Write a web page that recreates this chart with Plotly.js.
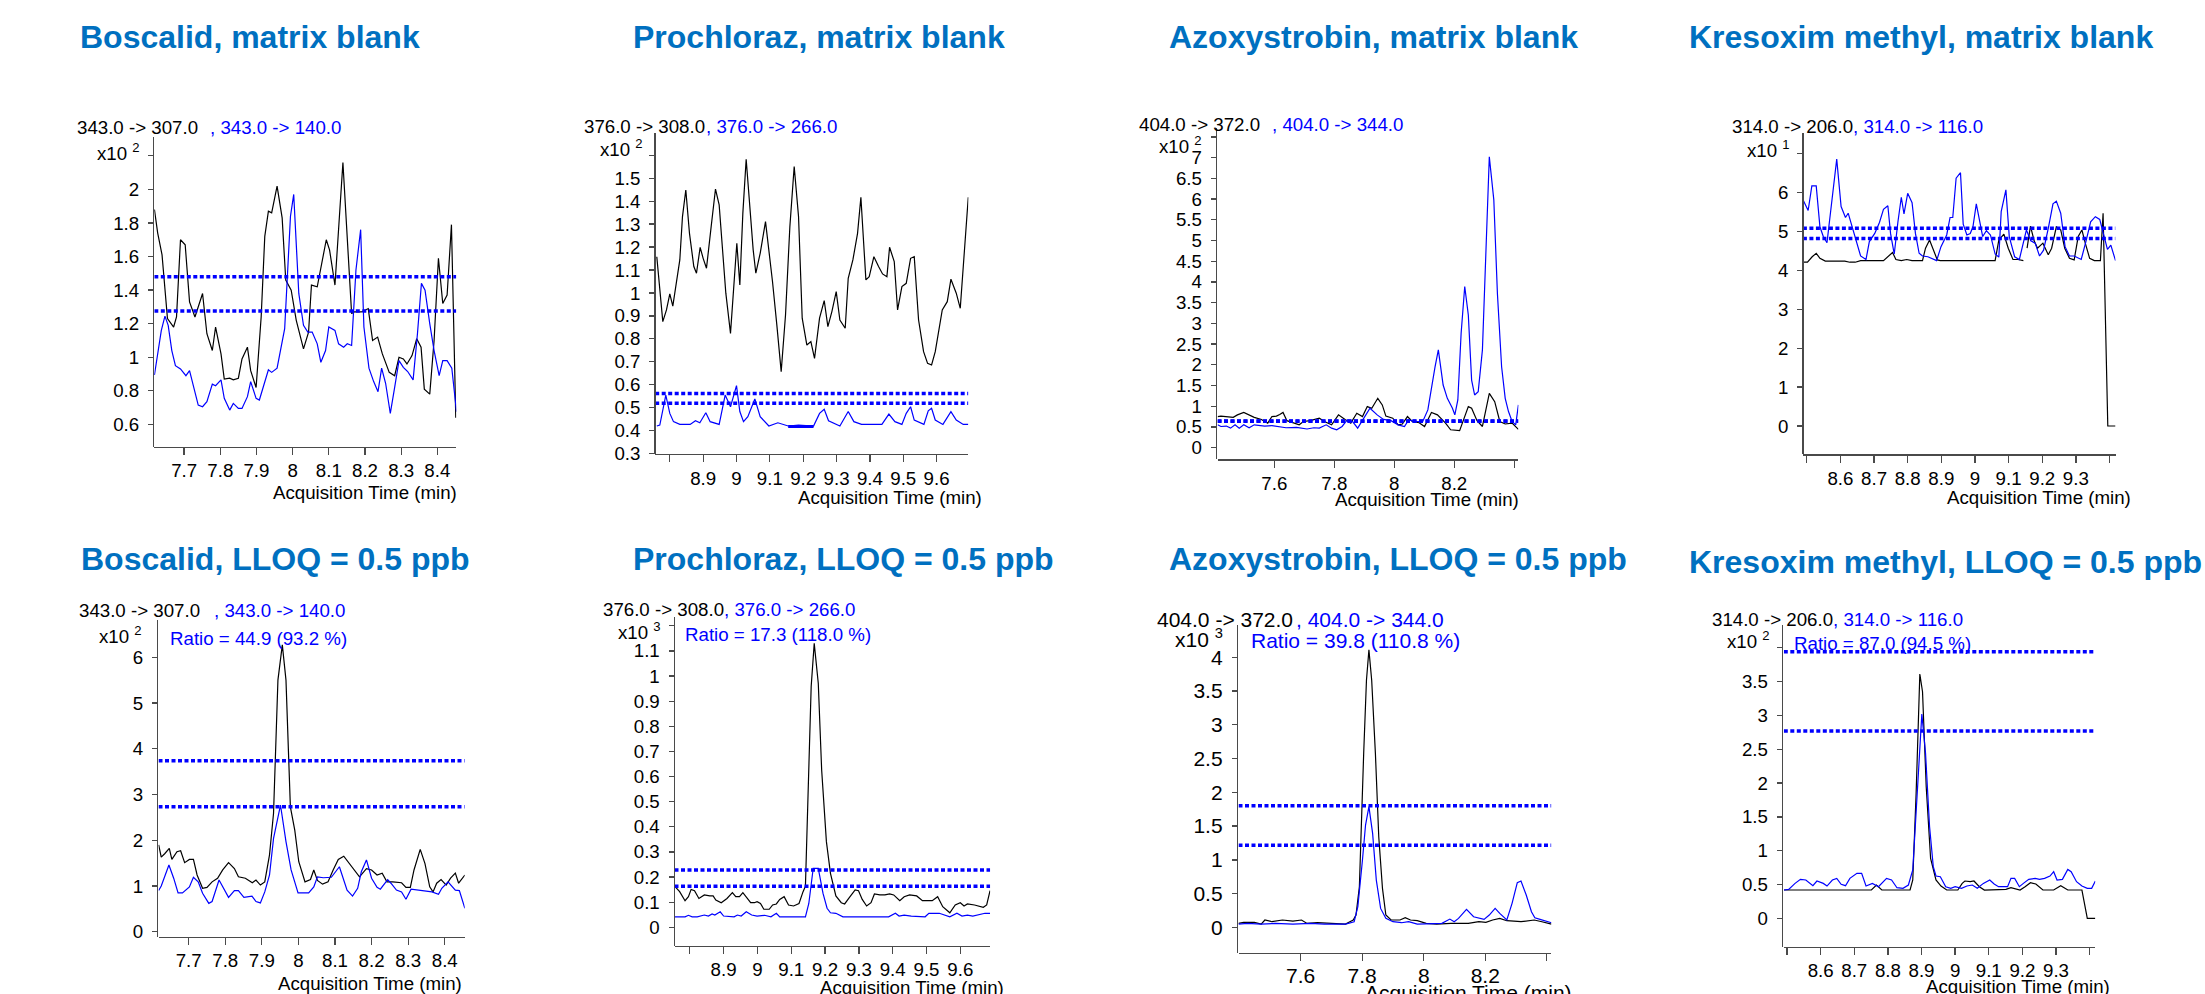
<!DOCTYPE html>
<html><head><meta charset="utf-8">
<script src="https://cdn.plot.ly/plotly-3.0.1.min.js"></script>
<style>html,body{margin:0;padding:0;background:#fff}</style>
</head><body><div id="chart" style="width:2205px;height:994px"></div>
<script>
// ---------- DATA (intensities in displayed units, i.e. x10^n shown on each axis) ----------
// Panel 1: Boscalid, matrix blank (x10^2)
const boscalidBlankQuantT=[7.618,7.627,7.639,7.649,7.654,7.671,7.679,7.690,7.703,7.715,7.730,7.751,7.763,7.778,7.787,7.802,7.811,7.826,7.836,7.850,7.860,7.875,7.884,7.899,7.913,7.923,7.933,7.942,7.957,7.971,7.981,7.996,8.010,8.030,8.044,8.052,8.068,8.093,8.102,8.117,8.139,8.163,8.170,8.190,8.209,8.221,8.235,8.248,8.267,8.282,8.294,8.306,8.316,8.330,8.343,8.355,8.364,8.379,8.391,8.403,8.415,8.427,8.439,8.451];
const boscalidBlankQuantY=[1.88,1.74,1.61,1.36,1.23,1.18,1.24,1.70,1.67,1.33,1.24,1.38,1.14,1.04,1.18,1.02,0.87,0.875,0.865,0.875,0.99,1.06,0.92,0.82,1.24,1.72,1.87,1.86,2.02,1.83,1.46,1.40,1.22,1.05,1.15,1.43,1.42,1.70,1.64,1.43,2.16,1.26,1.27,1.27,1.29,1.10,1.12,1.02,0.91,0.89,1.00,0.99,0.96,1.01,1.11,1.06,0.81,0.78,1.10,1.59,1.32,1.37,1.79,0.64];
const boscalidBlankQualT=[7.618,7.637,7.647,7.656,7.666,7.676,7.690,7.705,7.715,7.727,7.739,7.751,7.763,7.778,7.787,7.802,7.811,7.826,7.836,7.850,7.860,7.875,7.884,7.899,7.908,7.933,7.942,7.957,7.978,7.994,8.003,8.017,8.030,8.042,8.054,8.068,8.078,8.091,8.100,8.117,8.127,8.141,8.151,8.163,8.175,8.188,8.197,8.211,8.224,8.236,8.246,8.257,8.270,8.282,8.294,8.306,8.318,8.333,8.345,8.356,8.366,8.379,8.391,8.405,8.415,8.427,8.440,8.453];
const boscalidBlankQualY=[0.894,1.16,1.245,1.19,1.04,0.95,0.93,0.89,0.92,0.82,0.715,0.705,0.735,0.84,0.83,0.865,0.755,0.685,0.725,0.695,0.695,0.765,0.855,0.755,0.745,0.925,0.91,0.935,1.17,1.84,1.97,1.38,1.19,1.15,1.15,1.08,0.97,1.04,1.18,1.16,1.08,1.06,1.08,1.07,1.52,1.76,1.18,0.935,0.855,0.795,0.935,0.845,0.665,0.82,0.98,0.94,0.915,0.865,1.14,1.44,1.40,1.20,1.04,0.89,0.98,0.98,0.935,0.675];
const boscalidBlankLimits=[1.48,1.275];

// Panel 2: Prochloraz, matrix blank (x10^2)
const prochlorazBlankQuantT=[8.761,8.779,8.790,8.800,8.809,8.819,8.830,8.838,8.848,8.859,8.872,8.880,8.891,8.900,8.910,8.924,8.937,8.948,8.958,8.968,8.982,8.992,9.001,9.010,9.019,9.029,9.040,9.050,9.058,9.071,9.087,9.097,9.108,9.121,9.134,9.147,9.160,9.173,9.186,9.197,9.211,9.223,9.234,9.249,9.263,9.274,9.286,9.299,9.310,9.326,9.335,9.349,9.363,9.373,9.388,9.398,9.412,9.426,9.438,9.451,9.459,9.473,9.483,9.496,9.509,9.522,9.533,9.546,9.561,9.573,9.585,9.596,9.617,9.632,9.643,9.659,9.671,9.695];
const prochlorazBlankQuantY=[1.158,0.875,0.926,0.996,0.943,1.042,1.144,1.333,1.449,1.260,1.115,1.086,1.199,1.151,1.108,1.289,1.453,1.384,1.188,0.999,0.824,1.028,1.217,1.035,1.347,1.583,1.376,1.188,1.086,1.173,1.311,1.195,1.049,0.860,0.657,0.904,1.289,1.551,1.333,0.890,0.773,0.788,0.715,0.890,0.967,0.853,0.919,1.006,0.882,0.846,1.064,1.144,1.260,1.417,1.057,1.071,1.158,1.115,1.083,1.071,1.199,1.137,0.926,1.028,1.042,1.151,1.158,0.882,0.744,0.693,0.686,0.744,0.926,0.962,1.060,0.999,0.933,1.417];
const prochlorazBlankQualT=[8.761,8.770,8.788,8.800,8.811,8.830,8.861,8.877,8.890,8.908,8.921,8.935,8.948,8.966,8.982,9.000,9.010,9.021,9.034,9.055,9.071,9.097,9.124,9.155,9.186,9.231,9.249,9.263,9.276,9.310,9.335,9.352,9.375,9.436,9.457,9.475,9.496,9.509,9.522,9.533,9.562,9.575,9.585,9.596,9.619,9.643,9.659,9.680,9.695];
const prochlorazBlankQualY=[0.42,0.424,0.555,0.475,0.439,0.427,0.427,0.443,0.434,0.478,0.439,0.434,0.427,0.555,0.504,0.596,0.483,0.439,0.461,0.538,0.461,0.420,0.434,0.42,0.424,0.42,0.475,0.493,0.443,0.42,0.483,0.439,0.427,0.427,0.472,0.439,0.427,0.475,0.504,0.446,0.427,0.486,0.497,0.446,0.427,0.483,0.446,0.427,0.427];
const prochlorazBlankBaselineT=[9.155,9.231];
const prochlorazBlankBaselineY=[0.418,0.418];
const prochlorazBlankLimits=[0.562,0.519];

// Panel 3: Azoxystrobin, matrix blank (x10^2)
const azoxystrobinBlankQuantT=[7.411,7.422,7.463,7.477,7.498,7.516,7.533,7.557,7.578,7.592,7.607,7.618,7.629,7.642,7.662,7.683,7.697,7.720,7.750,7.767,7.791,7.814,7.837,7.855,7.875,7.894,7.910,7.925,7.945,7.960,7.972,7.995,8.013,8.027,8.044,8.060,8.083,8.101,8.124,8.144,8.171,8.188,8.218,8.229,8.247,8.258,8.276,8.294,8.317,8.335,8.352,8.370,8.393,8.414];
const azoxystrobinBlankQuantY=[0.75,0.76,0.73,0.79,0.85,0.79,0.73,0.68,0.59,0.75,0.76,0.80,0.85,0.65,0.60,0.55,0.63,0.65,0.71,0.63,0.55,0.79,0.67,0.59,0.83,0.75,0.99,0.95,1.19,1.03,0.76,0.71,0.55,0.57,0.75,0.63,0.60,0.51,0.85,0.79,0.59,0.43,0.41,0.65,0.99,0.95,0.65,0.51,1.31,1.11,0.63,0.57,0.59,0.44];
const azoxystrobinBlankQualT=[7.411,7.422,7.440,7.454,7.469,7.483,7.498,7.516,7.533,7.568,7.592,7.615,7.639,7.674,7.709,7.732,7.750,7.773,7.791,7.808,7.826,7.843,7.861,7.878,7.898,7.919,7.943,7.964,7.989,8.013,8.034,8.048,8.069,8.095,8.112,8.124,8.136,8.147,8.163,8.177,8.194,8.202,8.212,8.223,8.235,8.247,8.258,8.268,8.280,8.294,8.305,8.317,8.332,8.344,8.358,8.370,8.381,8.393,8.405,8.414];
const azoxystrobinBlankQualY=[0.55,0.51,0.52,0.47,0.55,0.47,0.55,0.48,0.55,0.52,0.53,0.51,0.48,0.49,0.45,0.48,0.47,0.55,0.47,0.43,0.51,0.67,0.63,0.47,0.71,0.95,0.79,0.68,0.65,0.55,0.51,0.67,0.63,0.63,0.91,1.47,1.95,2.36,1.51,1.19,0.95,0.79,1.15,2.76,3.89,3.20,1.63,1.27,1.35,2.36,4.77,7.02,5.98,3.72,1.95,1.19,0.87,0.63,0.55,1.03];
const azoxystrobinBlankLimits=[0.645,0.635];

// Panel 4: Kresoxim methyl, matrix blank (x10^1)
const kresoximBlankQuantT=[8.488,8.502,8.516,8.528,8.539,8.555,8.613,8.628,8.644,8.660,8.728,8.741,8.755,8.765,8.781,8.797,8.813,8.844,8.853,8.865,8.876,8.888,8.897,9.060,9.071,9.086,9.099,9.113,9.128,9.144,9.150,9.155,9.165,9.176,9.186,9.202,9.218,9.228,9.242,9.255,9.267,9.281,9.295,9.307,9.318,9.328,9.341,9.355,9.373,9.381,9.395,9.418];
const kresoximBlankQuantY=[4.21,4.21,4.35,4.44,4.31,4.24,4.24,4.21,4.21,4.25,4.25,4.35,4.46,4.28,4.25,4.28,4.25,4.25,4.57,4.78,4.52,4.27,4.25,4.25,4.78,4.93,4.57,4.28,4.28,4.25,null,4.57,5.14,4.76,4.57,4.70,4.40,4.57,5.12,5.04,4.57,4.31,4.27,4.87,5.04,4.70,4.31,4.25,4.25,5.47,0,0];
const kresoximBlankQualT=[8.488,8.504,8.515,8.528,8.539,8.549,8.560,8.573,8.589,8.602,8.615,8.623,8.632,8.644,8.660,8.676,8.686,8.702,8.716,8.728,8.741,8.749,8.760,8.771,8.781,8.789,8.800,8.813,8.823,8.834,8.844,8.860,8.873,8.886,8.899,8.916,8.926,8.934,8.944,8.957,8.965,8.976,8.986,8.994,9.004,9.015,9.023,9.034,9.046,9.060,9.071,9.078,9.092,9.102,9.118,9.132,9.144,9.153,9.166,9.179,9.192,9.204,9.218,9.232,9.242,9.255,9.268,9.281,9.295,9.316,9.331,9.344,9.358,9.371,9.379,9.394,9.404,9.418];
const kresoximBlankQualY=[5.83,5.54,6.17,6.17,5.12,4.87,4.71,5.72,6.86,5.64,5.36,5.47,5.19,4.82,4.37,4.28,4.74,4.95,5.23,5.57,5.66,4.95,4.42,5.25,5.88,5.45,5.98,5.74,4.95,4.44,4.37,4.35,4.31,4.25,4.61,4.91,5.36,5.36,6.37,6.51,5.19,4.91,4.95,5.12,5.71,5.23,4.87,5.02,4.91,4.42,4.34,5.51,6.07,4.87,4.35,4.28,4.70,5.04,4.76,4.70,4.37,4.52,5.08,5.71,5.78,5.47,4.61,4.37,4.37,4.28,4.78,5.25,5.38,5.31,5.04,4.54,4.65,4.25];
const kresoximBlankLimits=[5.08,4.82];

// Panel 5: Boscalid, LLOQ = 0.5 ppb (x10^2)
const boscalidLloqQuantT=[7.618,7.625,7.635,7.647,7.654,7.668,7.678,7.689,7.702,7.713,7.723,7.738,7.750,7.764,7.779,7.793,7.809,7.825,7.836,7.855,7.874,7.884,7.896,7.908,7.921,7.932,7.944,7.956,7.966,7.978,7.990,8.001,8.018,8.033,8.042,8.052,8.066,8.081,8.095,8.109,8.124,8.143,8.167,8.186,8.200,8.215,8.229,8.242,8.258,8.282,8.294,8.306,8.316,8.333,8.346,8.359,8.368,8.378,8.390,8.404,8.416,8.429,8.438,8.455];
const boscalidLloqQuantY=[1.90,1.63,1.71,1.82,1.58,1.75,1.77,1.51,1.58,1.58,1.24,0.95,0.97,1.09,1.17,1.35,1.51,1.38,1.20,1.17,1.07,1.13,1.02,1.09,1.68,2.59,5.50,6.27,5.50,2.73,2.22,1.53,1.09,1.14,1.35,1.12,1.04,1.09,1.35,1.58,1.65,1.46,1.20,1.38,1.35,1.24,1.28,1.09,1.09,1.07,0.97,0.97,1.35,1.80,1.49,0.98,0.87,1.06,1.14,1.02,1.17,1.28,1.06,1.24];
const boscalidLloqQualT=[7.618,7.625,7.646,7.659,7.671,7.683,7.702,7.713,7.726,7.738,7.755,7.764,7.783,7.798,7.809,7.825,7.836,7.851,7.873,7.884,7.896,7.908,7.921,7.932,7.951,7.966,7.980,7.999,8.028,8.042,8.052,8.068,8.090,8.112,8.133,8.148,8.162,8.172,8.186,8.200,8.215,8.224,8.244,8.253,8.268,8.282,8.294,8.308,8.325,8.344,8.365,8.383,8.392,8.409,8.429,8.440,8.455];
const boscalidLloqQualY=[0.90,1.00,1.46,1.17,0.85,0.85,0.98,1.19,1.09,0.84,0.62,0.66,1.13,0.91,0.75,0.90,0.90,0.75,0.78,0.66,0.63,0.87,1.24,2.04,2.77,1.97,1.35,0.85,0.85,0.98,1.20,1.18,1.19,1.42,0.91,0.78,0.95,1.31,1.57,1.17,0.97,0.93,1.14,1.06,0.91,0.87,0.71,0.93,0.91,0.90,0.87,0.82,0.95,1.09,0.91,0.90,0.51];
const boscalidLloqLimits=[3.74,2.73];

// Panel 6: Prochloraz, LLOQ = 0.5 ppb (x10^3)
const prochlorazLloqQuantT=[8.755,8.770,8.786,8.796,8.804,8.814,8.827,8.843,8.859,8.869,8.877,8.893,8.910,8.926,8.936,8.947,8.957,8.967,8.980,8.991,8.999,9.009,9.019,9.035,9.045,9.056,9.066,9.079,9.092,9.107,9.123,9.135,9.142,9.149,9.159,9.168,9.180,9.190,9.204,9.216,9.232,9.248,9.258,9.270,9.289,9.299,9.310,9.323,9.336,9.346,9.362,9.377,9.391,9.403,9.421,9.434,9.450,9.471,9.488,9.517,9.533,9.548,9.569,9.585,9.600,9.611,9.621,9.642,9.668,9.678,9.688];
const prochlorazLloqQuantY=[0.164,0.142,0.106,0.122,0.151,0.146,0.115,0.129,0.125,0.125,0.109,0.098,0.115,0.138,0.122,0.122,0.138,0.122,0.098,0.098,0.102,0.095,0.072,0.072,0.089,0.093,0.111,0.122,0.089,0.085,0.095,0.142,0.164,0.493,0.958,1.130,0.971,0.626,0.341,0.215,0.125,0.098,0.093,0.115,0.149,0.146,0.111,0.085,0.098,0.133,0.129,0.129,0.133,0.129,0.106,0.122,0.129,0.125,0.106,0.106,0.122,0.082,0.058,0.089,0.098,0.085,0.093,0.089,0.080,0.089,0.146];
const prochlorazLloqQualT=[8.755,8.786,8.796,8.807,8.822,8.843,8.855,8.866,8.874,8.890,8.900,8.931,8.941,8.952,8.967,8.983,8.999,9.021,9.040,9.056,9.066,9.142,9.152,9.165,9.180,9.194,9.206,9.216,9.232,9.253,9.388,9.408,9.419,9.434,9.455,9.496,9.507,9.538,9.569,9.590,9.605,9.621,9.637,9.650,9.673,9.688];
const prochlorazLloqQualY=[0.042,0.042,0.048,0.042,0.042,0.049,0.045,0.053,0.049,0.062,0.045,0.042,0.049,0.045,0.062,0.049,0.045,0.048,0.042,0.056,0.042,0.042,0.095,0.235,0.235,0.135,0.076,0.058,0.056,0.042,0.042,0.056,0.045,0.049,0.045,0.042,0.056,0.056,0.042,0.056,0.045,0.049,0.045,0.049,0.056,0.056];
const prochlorazLloqLimits=[0.228,0.164];

// Panel 7: Azoxystrobin, LLOQ = 0.5 ppb (x10^3)
const azoxystrobinLloqQuantT=[7.398,7.415,7.450,7.472,7.484,7.507,7.541,7.575,7.603,7.621,7.655,7.723,7.746,7.760,7.771,7.780,7.791,7.805,7.814,7.822,7.831,7.843,7.854,7.866,7.877,7.894,7.923,7.940,7.957,7.979,8.008,8.042,8.088,8.145,8.179,8.202,8.224,8.247,8.270,8.316,8.359,8.384,8.415];
const azoxystrobinLloqQuantY=[0.059,0.074,0.074,0.049,0.109,0.084,0.109,0.094,0.109,0.059,0.069,0.059,0.049,0.084,0.109,0.183,0.602,2.58,3.66,4.11,3.66,2.58,1.34,0.578,0.183,0.109,0.109,0.143,0.109,0.099,0.059,0.049,0.059,0.059,0.084,0.074,0.109,0.133,0.099,0.084,0.109,0.084,0.049];
const azoxystrobinLloqQualT=[7.398,7.427,7.472,7.518,7.575,7.632,7.677,7.746,7.774,7.786,7.801,7.811,7.822,7.834,7.846,7.860,7.877,7.900,7.928,7.951,7.979,8.042,8.059,8.085,8.099,8.113,8.139,8.162,8.179,8.196,8.213,8.232,8.247,8.270,8.287,8.304,8.316,8.333,8.350,8.361,8.378,8.395,8.415];
const azoxystrobinLloqQualY=[0.049,0.059,0.049,0.059,0.049,0.059,0.049,0.049,0.084,0.306,0.998,1.516,1.788,1.393,0.701,0.281,0.133,0.084,0.069,0.084,0.049,0.049,0.059,0.123,0.084,0.133,0.267,0.158,0.133,0.119,0.183,0.281,0.207,0.109,0.356,0.662,0.686,0.479,0.232,0.143,0.119,0.099,0.069];
const azoxystrobinLloqLimits=[1.80,1.215];

// Panel 8: Kresoxim methyl, LLOQ = 0.5 ppb (x10^2)
const kresoximLloqQuantT=[8.491,8.751,8.766,8.782,8.866,8.874,8.884,8.895,8.903,8.914,8.927,8.943,8.958,8.975,9.008,9.021,9.029,9.045,9.056,9.072,9.087,9.135,9.151,9.166,9.182,9.193,9.208,9.224,9.240,9.261,9.293,9.314,9.335,9.377,9.393,9.417];
const kresoximLloqQuantY=[0.419,0.419,0.493,0.419,0.419,0.567,1.848,3.613,3.351,1.947,0.887,0.567,0.478,0.419,0.419,0.517,0.552,0.542,0.552,0.468,0.419,0.419,0.429,0.453,0.429,0.419,0.468,0.527,0.508,0.419,0.419,0.483,0.419,0.419,0,0];
const kresoximLloqQualT=[8.491,8.505,8.524,8.540,8.556,8.577,8.589,8.608,8.619,8.635,8.648,8.661,8.674,8.687,8.708,8.722,8.735,8.754,8.772,8.796,8.811,8.827,8.845,8.861,8.874,8.884,8.901,8.912,8.924,8.935,8.943,8.956,8.972,8.987,9.000,9.019,9.035,9.051,9.066,9.084,9.103,9.116,9.129,9.156,9.166,9.177,9.191,9.203,9.219,9.238,9.251,9.266,9.282,9.293,9.303,9.319,9.335,9.345,9.361,9.377,9.393,9.406,9.417];
const kresoximLloqQualY=[0.419,0.429,0.517,0.577,0.567,0.483,0.552,0.517,0.478,0.567,0.591,0.503,0.483,0.591,0.665,0.665,0.478,0.517,0.468,0.591,0.567,0.453,0.444,0.493,0.715,1.552,3.021,2.440,1.355,0.764,0.626,0.616,0.468,0.444,0.468,0.444,0.478,0.493,0.444,0.517,0.567,0.508,0.468,0.468,0.591,0.591,0.468,0.517,0.577,0.591,0.577,0.591,0.626,0.690,0.567,0.577,0.724,0.690,0.542,0.478,0.444,0.444,0.552];
const kresoximLloqLimits=[3.94,2.77];

// ---------- TEXT / TICKS ----------
const panelTitles=["Boscalid, matrix blank","Prochloraz, matrix blank","Azoxystrobin, matrix blank","Kresoxim methyl, matrix blank","Boscalid, LLOQ = 0.5 ppb","Prochloraz, LLOQ = 0.5 ppb","Azoxystrobin, LLOQ = 0.5 ppb","Kresoxim methyl, LLOQ = 0.5 ppb"];
const quantLabels=["343.0 -> 307.0","376.0 -> 308.0","404.0 -> 372.0","314.0 -> 206.0","343.0 -> 307.0","376.0 -> 308.0","404.0 -> 372.0","314.0 -> 206.0"];
const qualLabels=[", 343.0 -> 140.0",", 376.0 -> 266.0",", 404.0 -> 344.0",", 314.0 -> 116.0",", 343.0 -> 140.0",", 376.0 -> 266.0",", 404.0 -> 344.0",", 314.0 -> 116.0"];
const scaleExponents=[2,2,2,1,2,3,3,2];
const ratioLabels=[null,null,null,null,"Ratio = 44.9 (93.2 %)","Ratio = 17.3 (118.0 %)","Ratio = 39.8 (110.8 %)","Ratio = 87.0 (94.5 %)"];
const xAxisTitle="Acquisition Time (min)";

const p1XTicks=[7.7,7.8,7.9,8,8.1,8.2,8.3,8.4], p1XLabels=["7.7","7.8","7.9","8","8.1","8.2","8.3","8.4"];
const p2XTicks=[8.8,8.9,9,9.1,9.2,9.3,9.4,9.5,9.6], p2XLabels=["","8.9","9","9.1","9.2","9.3","9.4","9.5","9.6"];
const p3XTicks=[7.6,7.8,8,8.2,8.4], p3XLabels=["7.6","7.8","8","8.2",""];
const p4XTicks=[8.5,8.6,8.7,8.8,8.9,9,9.1,9.2,9.3,9.4], p4XLabels=["","8.6","8.7","8.8","8.9","9","9.1","9.2","9.3",""];
const p1YTicks=[0.6,0.8,1,1.2,1.4,1.6,1.8,2,2.2], p1YLabels=["0.6","0.8","1","1.2","1.4","1.6","1.8","2",""];
const p2YTicks=[0.3,0.4,0.5,0.6,0.7,0.8,0.9,1,1.1,1.2,1.3,1.4,1.5,1.6], p2YLabels=["0.3","0.4","0.5","0.6","0.7","0.8","0.9","1","1.1","1.2","1.3","1.4","1.5",""];
const p3YTicks=[0,0.5,1,1.5,2,2.5,3,3.5,4,4.5,5,5.5,6,6.5,7,7.5], p3YLabels=["0","0.5","1","1.5","2","2.5","3","3.5","4","4.5","5","5.5","6","6.5","7",""];
const p4YTicks=[0,1,2,3,4,5,6,7], p4YLabels=["0","1","2","3","4","5","6",""];
const p5YTicks=[0,1,2,3,4,5,6], p5YLabels=["0","1","2","3","4","5","6"];
const p6YTicks=[0,0.1,0.2,0.3,0.4,0.5,0.6,0.7,0.8,0.9,1,1.1,1.2], p6YLabels=["0","0.1","0.2","0.3","0.4","0.5","0.6","0.7","0.8","0.9","1","1.1",""];
const p7YTicks=[0,0.5,1,1.5,2,2.5,3,3.5,4], p7YLabels=["0","0.5","1","1.5","2","2.5","3","3.5","4"];
const p8YTicks=[0,0.5,1,1.5,2,2.5,3,3.5,4], p8YLabels=["0","0.5","1","1.5","2","2.5","3","3.5",""];

// ---------- LAYOUT GEOMETRY (pixels) ----------
const W=2205,H=994;
const PX=x=>x/W, PY=y=>1-y/H;
const BLUE='#0000ff', TITLE_BLUE='#0070c0', AXIS='#4a4a4a';
const FONT='"Liberation Sans", Arial, sans-serif';
const FS=18.7;

const panels=[
 {ax:152.9,x0:154.3,x1:456.3,y0:136.7,y1:446.7,xr:[7.6176,8.4524],yr:[0.467,2.314],xt:p1XTicks,xl:p1XLabels,yt:p1YTicks,yl:p1YLabels,
  q:[boscalidBlankQuantT,boscalidBlankQuantY],u:[boscalidBlankQualT,boscalidBlankQualY],lim:boscalidBlankLimits,fs:FS,xstand:0,
  title:[78.3,37],quant:[75,128],qual:[208,128],exp:[142,152],xtitle:[459.3,492],ratio:null},
 {ax:654.2,x0:655.2,x1:968.4,y0:133.3,y1:454,xr:[8.7562,9.6954],yr:[0.298,1.696],xt:p2XTicks,xl:p2XLabels,yt:p2YTicks,yl:p2YLabels,
  q:[prochlorazBlankQuantT,prochlorazBlankQuantY],u:[prochlorazBlankQualT,prochlorazBlankQualY],lim:prochlorazBlankLimits,fs:FS,xstand:0,
  title:[630.7,37],quant:[582.3,126],qual:[703.5,126],exp:[645,148],xtitle:[984.2,497],ratio:null},
 {ax:1215.7,x0:1217.5,x1:1518.4,y0:128.3,y1:459.3,xr:[7.4105,8.414],yr:[-0.282,7.707],xt:p3XTicks,xl:p3XLabels,yt:p3YTicks,yl:p3YLabels,
  q:[azoxystrobinBlankQuantT,azoxystrobinBlankQuantY],u:[azoxystrobinBlankQualT,azoxystrobinBlankQualY],lim:azoxystrobinBlankLimits,fs:FS,xstand:0,
  title:[1167.3,37],quant:[1136.8,125],qual:[1270.1,125],exp:[1204.2,145],xtitle:[1520.9,499],ratio:null},
 {ax:1802.2,x0:1802.9,x1:2115.5,y0:133.3,y1:454.3,xr:[8.4884,9.4179],yr:[-0.728,7.524],xt:p4XTicks,xl:p4XLabels,yt:p4YTicks,yl:p4YLabels,
  q:[kresoximBlankQuantT,kresoximBlankQuantY],u:[kresoximBlankQualT,kresoximBlankQualY],lim:kresoximBlankLimits,fs:FS,xstand:0,
  title:[1686.7,37],quant:[1730,126],qual:[1850.7,126],exp:[1791.6,149],xtitle:[2132.5,497],ratio:null},
 {ax:156.8,x0:158.5,x1:464.7,y0:620,y1:936.7,xr:[7.6175,8.4546],yr:[-0.109,6.815],xt:p1XTicks,xl:p1XLabels,yt:p5YTicks,yl:p5YLabels,
  q:[boscalidLloqQuantT,boscalidLloqQuantY],u:[boscalidLloqQualT,boscalidLloqQualY],lim:boscalidLloqLimits,fs:FS,xstand:0,
  title:[78.9,559],quant:[77.2,610],qual:[212.2,610],exp:[144.5,635],xtitle:[464,983],ratio:[167.7,638]},
 {ax:673.5,x0:674.5,x1:990.2,y0:616.7,y1:945.7,xr:[8.7548,9.6884],yr:[-0.073,1.236],xt:p2XTicks,xl:p2XLabels,yt:p6YTicks,yl:p6YLabels,
  q:[prochlorazLloqQuantT,prochlorazLloqQuantY],u:[prochlorazLloqQualT,prochlorazLloqQualY],lim:prochlorazLloqLimits,fs:FS,xstand:0,
  title:[630.7,559],quant:[600.9,609.3],qual:[722,609.3],exp:[662.9,631],xtitle:[1006,987],ratio:[683.3,634]},
 {ax:1236.8,x0:1238.5,x1:1551.4,y0:625,y1:952.7,xr:[7.3983,8.4148],yr:[-0.375,4.479],xt:p3XTicks,xl:p3XLabels,yt:p7YTicks,yl:p7YLabels,
  q:[azoxystrobinLloqQuantT,azoxystrobinLloqQuantY],u:[azoxystrobinLloqQualT,azoxystrobinLloqQualY],lim:azoxystrobinLloqLimits,fs:21,xstand:-3,
  title:[1167.3,559],quant:[1155.1,619],qual:[1293.6,619],exp:[1224.5,638],xtitle:[1573.5,992],ratio:[1249.1,640.7]},
 {ax:1781.7,x0:1783.8,x1:2095.3,y0:625,y1:946.7,xr:[8.4905,9.4168],yr:[-0.419,4.337],xt:p4XTicks,xl:p4XLabels,yt:p8YTicks,yl:p8YLabels,
  q:[kresoximLloqQuantT,kresoximLloqQuantY],u:[kresoximLloqQualT,kresoximLloqQualY],lim:kresoximLloqLimits,fs:FS,xstand:0,
  title:[1686.5,562],quant:[1710.2,619],qual:[1831.2,619],exp:[1772.1,639.5],xtitle:[2112,986],ratio:[1791.6,643]}
];

const data=[], annotations=[];
const layout={width:W,height:H,margin:{l:0,r:0,t:0,b:0},paper_bgcolor:'#fff',plot_bgcolor:'#fff',showlegend:false,font:{family:FONT,color:'#000'}};

panels.forEach((p,i)=>{
  const n=i+1, xa='x'+(n>1?n:''), ya='y'+(n>1?n:'');
  const xk='xaxis'+(n>1?n:''), yk='yaxis'+(n>1?n:'');
  layout[xk]={domain:[PX(p.x0),PX(p.x1)],range:p.xr,anchor:ya,showgrid:false,zeroline:false,showline:true,linecolor:AXIS,linewidth:1.3,
    ticks:'outside',ticklen:7,tickcolor:AXIS,tickwidth:1.3,tickvals:p.xt,ticktext:p.xl,tickfont:{size:p.fs,family:FONT,color:'#000'},ticklabelstandoff:p.xstand,fixedrange:true};
  layout[yk]={domain:[PY(p.y1),PY(p.y0)],range:p.yr,anchor:'free',position:PX(p.ax),showgrid:false,zeroline:false,showline:true,linecolor:AXIS,linewidth:1.3,
    ticks:'outside',ticklen:5,tickcolor:AXIS,tickwidth:1.3,tickvals:p.yt,ticktext:p.yl,tickfont:{size:p.fs,family:FONT,color:'#000'},ticklabelstandoff:5,fixedrange:true};
  data.push({x:p.q[0],y:p.q[1],xaxis:xa,yaxis:ya,type:'scatter',mode:'lines',line:{color:'#000',width:1.2},hoverinfo:'skip'});
  data.push({x:p.u[0],y:p.u[1],xaxis:xa,yaxis:ya,type:'scatter',mode:'lines',line:{color:BLUE,width:1.2},hoverinfo:'skip'});
  if(i===1){
    data.push({x:prochlorazBlankBaselineT,y:prochlorazBlankBaselineY,xaxis:xa,yaxis:ya,type:'scatter',mode:'lines',line:{color:BLUE,width:3},hoverinfo:'skip'});
  }
  p.lim.forEach(v=>{
    data.push({x:p.xr,y:[v,v],xaxis:xa,yaxis:ya,type:'scatter',mode:'lines',line:{color:BLUE,width:3.5,dash:'4px,2.5px'},hoverinfo:'skip'});
  });
  const f=p.fs;
  annotations.push({text:'<b>'+panelTitles[i]+'</b>',xref:'paper',yref:'paper',x:PX(p.title[0]),y:PY(p.title[1]),xanchor:'left',yanchor:'middle',showarrow:false,font:{size:32,color:TITLE_BLUE,family:FONT}});
  annotations.push({text:quantLabels[i],xref:'paper',yref:'paper',x:PX(p.quant[0]),y:PY(p.quant[1]),xanchor:'left',yanchor:'middle',showarrow:false,font:{size:f,color:'#000',family:FONT}});
  annotations.push({text:qualLabels[i],xref:'paper',yref:'paper',x:PX(p.qual[0]),y:PY(p.qual[1]),xanchor:'left',yanchor:'middle',showarrow:false,font:{size:f,color:BLUE,family:FONT}});
  annotations.push({text:'x10 <sup>'+scaleExponents[i]+'</sup>',xref:'paper',yref:'paper',x:PX(p.exp[0]),y:PY(p.exp[1]),xanchor:'right',yanchor:'middle',showarrow:false,font:{size:f,color:'#000',family:FONT}});
  annotations.push({text:xAxisTitle,xref:'paper',yref:'paper',x:PX(p.xtitle[0]),y:PY(p.xtitle[1]),xanchor:'right',yanchor:'middle',showarrow:false,font:{size:f,color:'#000',family:FONT}});
  if(ratioLabels[i]){
    annotations.push({text:ratioLabels[i],xref:'paper',yref:'paper',x:PX(p.ratio[0]),y:PY(p.ratio[1]),xanchor:'left',yanchor:'middle',showarrow:false,font:{size:f,color:BLUE,family:FONT}});
  }
});
layout.annotations=annotations;
Plotly.newPlot('chart',data,layout,{staticPlot:true,displayModeBar:false});
</script></body></html>
